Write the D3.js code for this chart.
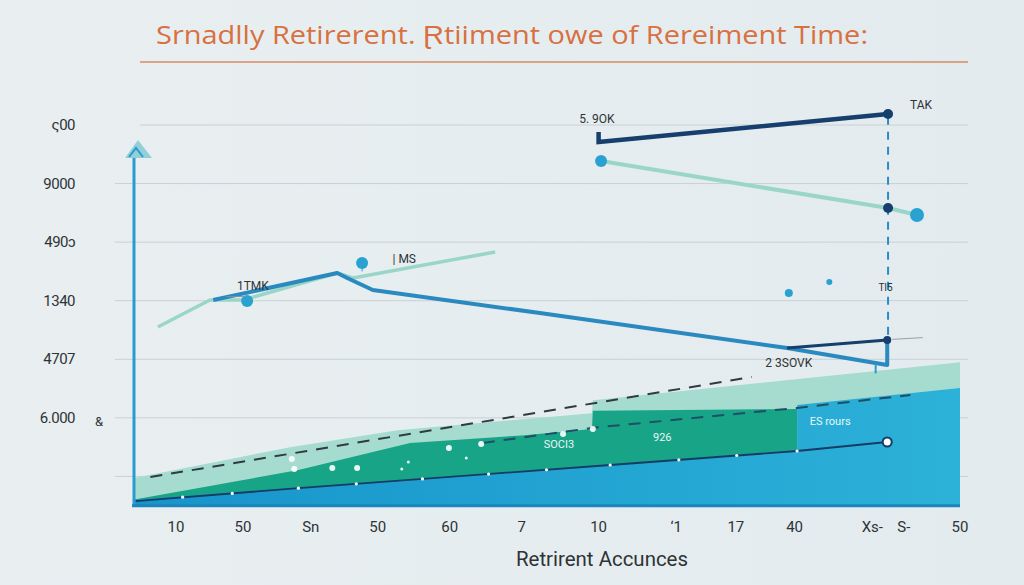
<html>
<head>
<script src="https://cdn.jsdelivr.net/npm/d3@7/dist/d3.min.js"></script>
<style>
    body { margin: 0; background: #e7eef1; overflow: hidden; }
    text { font-family: Roboto, "Open Sans", sans-serif; }
    text.tick { fill: #2e3336; font-size: 15px; }
    text.note { fill: #2e3336; font-size: 12px; }
    path.area { stroke: none; }
</style>
</head>
<body>
<script>
// tick labels
var yTickValues = [7000, 6000, 5000, 4000, 3000, 2000];
var yTickLabels = ["ς00", "9000", "490ɔ", "1340", "4707", "6.000"];
var gridValues = [7000, 6000, 5000, 4000, 3000, 2000, 1000];
var xTickPos = [5.2, 13.3, 21.5, 29.6, 38.3, 47, 56.3, 65.7, 72.9, 80, 89.4, 93.2, 100];
var xTickLabels = ["10", "50", "Sn", "50", "60", "7", "10", "‘1", "17", "40", "Xs-", "S-", "50"];

// stacked areas (top edges), base value below
var baseValue = 500;
var paleX = [0, 19, 32, 55.5, 55.6, 100];
var paleY = [970, 1500, 1790, 2080, 2300, 2950];
var greenX = [0, 20, 33.5, 47, 55.5, 55.6, 80.3];
var greenY = [600, 1110, 1570, 1700, 1810, 2120, 2150];
var blueX = [0, 57.7, 80.3, 80.31, 100];
var blueY = [600, 1200, 1450, 2220, 2510];

// lines
var tealAX = [3, 9.3, 13.3, 24.7, 26.6, 43.8];
var tealAY = [3551, 4012, 4012, 4473, 4388, 4832];
var blueBX = [9.7, 24.7, 25.9, 29, 49.2, 79.1, 91.2, 91.2];
var blueBY = [4012, 4473, 4388, 4183, 3790, 3193, 2902, 3329];
var navyVX = [79.1, 91.2];
var navyVY = [3193, 3329];
var navyCX = [56.3, 56.3, 91.3];
var navyCY = [6880, 6710, 7188];
var tealDX = [56.6, 91.3, 94.8];
var tealDY = [6385, 5583, 5463];
var dashTopX = [2.1, 74.8];
var dashTopY = [990, 2698];
var dashLowX = [42.3, 55.6, 80.3, 94];
var dashLowY = [1571, 1830, 2170, 2390];
var navyEX = [0.3, 20, 57.7, 80.3, 91.2];
var navyEY = [580, 800, 1195, 1434, 1588];
var navyEDotX = [6, 12, 20, 27, 35, 43, 50, 57.7, 66, 73, 80.3];
var navyEDotY = [645, 710, 800, 873, 957, 1040, 1114, 1195, 1283, 1357, 1434];
var dropX = [91.3, 91.3];
var dropY = [7140, 3300];

// dots
var blueDotX = [56.6, 94.8, 27.7, 13.8, 79.3, 84.2];
var blueDotY = [6385, 5463, 4644, 3995, 4132, 4320];
var blueDotR = [6, 7, 6, 6, 4, 3];
var navyDotX = [91.3, 91.3, 91.2];
var navyDotY = [7188, 5583, 3329];
var whiteDotX = [19.2, 19.5, 24.1, 27.1, 38.2, 42.1, 52, 55.6, 33.3, 32.5, 40.3];
var whiteDotY = [1298, 1127, 1144, 1144, 1485, 1554, 1724, 1810, 1246, 1127, 1315];
var whiteDotR = [3, 3, 3, 3, 3, 3, 3, 3, 1.5, 1.5, 1.5];

// notes
var noteText = ["5. 9OK", "TAK", "1TMK", "| MS", "TI5", "2 3SOVK", "SOCI3", "926", "ES rours"];
var noteX = [56.1, 95.3, 14.5, 32.8, 91.0, 79.3, 51.5, 64, 84.3];
var noteY = [7040, 7280, 4190, 4650, 4170, 2870, 1490, 1610, 1880];

var width = 1024, height = 585;

var svg = d3.select("body").append("svg")
    .attr("width", width)
    .attr("height", height);

var defs = svg.append("defs");
var bg = defs.append("linearGradient").attr("id", "bg").attr("x1", 0).attr("x2", 1);
bg.append("stop").attr("offset", "0%").attr("stop-color", "#e9eff1");
bg.append("stop").attr("offset", "100%").attr("stop-color", "#e3ebee");
var bl = defs.append("linearGradient").attr("id", "blue").attr("x1", 0).attr("x2", 1);
bl.append("stop").attr("offset", "0%").attr("stop-color", "#1794cb");
bl.append("stop").attr("offset", "100%").attr("stop-color", "#2cb1d8");

svg.append("rect").attr("width", width).attr("height", height).attr("fill", "url(#bg)");

var x = d3.scaleLinear().domain([0, 100]).range([133, 960]);
var y = d3.scaleLinear().domain([0, 7000]).range([535, 125]);

// title
svg.append("text")
    .attr("x", 512).attr("y", 44)
    .attr("text-anchor", "middle")
    .attr("textLength", 712).attr("lengthAdjust", "spacingAndGlyphs")
    .style("font-family", "'Open Sans', sans-serif")
    .style("font-size", "25px")
    .style("fill", "#d8703f")
    .text("Srnadlly Retirerent. Ɽtiiment owe of Rereiment Time:");
svg.append("line")
    .attr("x1", 140).attr("x2", 968).attr("y1", 62).attr("y2", 62)
    .attr("stroke", "#d98a62").attr("stroke-width", 1.5);

// grid
svg.append("g").selectAll("line").data(gridValues).enter().append("line")
    .attr("x1", function(d, i) { return i == 0 ? 140 : 115; })
    .attr("x2", 968)
    .attr("y1", function(d) { return y(d); })
    .attr("y2", function(d) { return y(d); })
    .attr("stroke", "#c7d0d4").attr("stroke-width", 1);

// y labels
svg.append("g").selectAll("text").data(yTickValues).enter().append("text")
    .attr("class", "tick")
    .attr("x", 75)
    .attr("y", function(d) { return y(d) + 5; })
    .attr("text-anchor", "end")
    .style("letter-spacing", "-0.5px")
    .text(function(d, i) { return yTickLabels[i]; });
svg.append("text").attr("class", "tick").attr("x", 95).attr("y", y(1950) + 5)
    .style("font-size", "13px").text("&");

// areas
function pts(xs, ys) { return xs.map(function(d, i) { return [d, ys[i]]; }); }
var area = d3.area()
    .x(function(d) { return x(d[0]); })
    .y0(y(baseValue))
    .y1(function(d) { return y(d[1]); });

svg.append("path").attr("class", "area").attr("d", area(pts(paleX, paleY))).attr("fill", "#a6dccf");
svg.append("path").attr("class", "area").attr("d", area(pts(greenX, greenY))).attr("fill", "#18a487");
svg.append("path").attr("class", "area").attr("d", area(pts(blueX, blueY))).attr("fill", "url(#blue)");

var line = d3.line()
    .x(function(d) { return x(d[0]); })
    .y(function(d) { return y(d[1]); });

// dashed lines
svg.append("path").attr("d", line(pts(dashTopX, dashTopY)))
    .attr("fill", "none").attr("stroke", "#2f3b40").attr("stroke-width", 2).attr("stroke-dasharray", "12,9");
svg.append("path").attr("d", line(pts(dashLowX, dashLowY)))
    .attr("fill", "none").attr("stroke", "#1f4f66").attr("stroke-width", 2).attr("stroke-dasharray", "12,9");

// thin navy line with white dots
svg.append("path").attr("d", line(pts(navyEX, navyEY)))
    .attr("fill", "none").attr("stroke", "#163b66").attr("stroke-width", 1.8);
svg.append("g").selectAll("circle").data(navyEDotX).enter().append("circle")
    .attr("cx", function(d) { return x(d); })
    .attr("cy", function(d, i) { return y(navyEDotY[i]); })
    .attr("r", 1.6).attr("fill", "#ffffff");
svg.append("circle").attr("cx", x(navyEX[4])).attr("cy", y(navyEY[4])).attr("r", 4.5)
    .attr("fill", "#ffffff").attr("stroke", "#163b66").attr("stroke-width", 2);

// white dots in green
svg.append("g").selectAll("circle").data(whiteDotX).enter().append("circle")
    .attr("cx", function(d) { return x(d); })
    .attr("cy", function(d, i) { return y(whiteDotY[i]); })
    .attr("r", function(d, i) { return whiteDotR[i]; })
    .attr("fill", "#ffffff").attr("opacity", 0.9);

// y axis with arrow
svg.append("line").attr("x1", 134).attr("x2", 134).attr("y1", y(baseValue)).attr("y2", 152)
    .attr("stroke", "#2a9bd0").attr("stroke-width", 3);
svg.append("polygon").attr("points", "138,140 125,158 152,158").attr("fill", "#93cfd9");
svg.append("polyline").attr("points", "129,157 136,148 143,157").attr("fill", "none")
    .attr("stroke", "#2a9bd0").attr("stroke-width", 2);
// bottom axis
svg.append("line").attr("x1", 132).attr("x2", 960).attr("y1", y(baseValue)).attr("y2", y(baseValue))
    .attr("stroke", "#1a86bb").attr("stroke-width", 3);

// dashed vertical
svg.append("path").attr("d", line(pts(dropX, dropY)))
    .attr("fill", "none").attr("stroke", "#2a8cc4").attr("stroke-width", 2).attr("stroke-dasharray", "8,7");

// teal and blue lines
svg.append("path").attr("d", line(pts(tealAX, tealAY)))
    .attr("fill", "none").attr("stroke", "#9ad6c7").attr("stroke-width", 3.5).attr("stroke-linejoin", "round");
svg.append("path").attr("d", line(pts(blueBX, blueBY)))
    .attr("fill", "none").attr("stroke", "#2a8abf").attr("stroke-width", 4).attr("stroke-linejoin", "round");
svg.append("path").attr("d", line(pts(navyVX, navyVY)))
    .attr("fill", "none").attr("stroke", "#173f6d").attr("stroke-width", 3);
svg.append("path").attr("d", line(pts(tealDX, tealDY)))
    .attr("fill", "none").attr("stroke", "#9ad6c7").attr("stroke-width", 4);
svg.append("path").attr("d", line(pts(navyCX, navyCY)))
    .attr("fill", "none").attr("stroke", "#173f6d").attr("stroke-width", 4.5);

// stem under dot
svg.append("line").attr("x1", x(blueDotX[2])).attr("x2", x(blueDotX[2]))
    .attr("y1", y(blueDotY[2])).attr("y2", y(4500)).attr("stroke", "#2a9bd0").attr("stroke-width", 1);
svg.append("line").attr("x1", x(89.8)).attr("x2", x(89.8))
    .attr("y1", y(2930)).attr("y2", y(2760)).attr("stroke", "#2a9bd0").attr("stroke-width", 2);

// dots
svg.append("g").selectAll("circle").data(blueDotX).enter().append("circle")
    .attr("cx", function(d) { return x(d); })
    .attr("cy", function(d, i) { return y(blueDotY[i]); })
    .attr("r", function(d, i) { return blueDotR[i]; })
    .attr("fill", "#29a2d2");
svg.append("g").selectAll("circle").data(navyDotX).enter().append("circle")
    .attr("cx", function(d) { return x(d); })
    .attr("cy", function(d, i) { return y(navyDotY[i]); })
    .attr("r", function(d, i) { return i == 2 ? 4 : 5; })
    .attr("fill", "#173f6d");

// notes
svg.append("line").attr("x1", x(11.3)).attr("x2", x(13.6)).attr("y1", y(4070)).attr("y2", y(4070))
    .attr("stroke", "#8a9296").attr("stroke-width", 1);
svg.append("line").attr("x1", x(91.8)).attr("x2", x(95.5)).attr("y1", y(3340)).attr("y2", y(3370))
    .attr("stroke", "#9aa2a6").attr("stroke-width", 1);
svg.append("g").selectAll("text").data(noteText).enter().append("text")
    .attr("class", "note")
    .attr("x", function(d, i) { return x(noteX[i]); })
    .attr("y", function(d, i) { return y(noteY[i]); })
    .attr("text-anchor", "middle")
    .style("font-size", function(d, i) { return i == 4 ? "10px" : (i >= 6 ? "11px" : "12px"); })
    .style("fill", function(d, i) { return i >= 6 ? "#e8f6f4" : "#2e3336"; })
    .text(function(d) { return d; });

// x labels
svg.append("g").selectAll("text").data(xTickPos).enter().append("text")
    .attr("class", "tick")
    .attr("x", function(d) { return x(d); })
    .attr("y", 532)
    .attr("text-anchor", "middle")
    .text(function(d, i) { return xTickLabels[i]; });

svg.append("text")
    .attr("x", 602).attr("y", 566)
    .attr("text-anchor", "middle")
    .attr("textLength", 172).attr("lengthAdjust", "spacingAndGlyphs")
    .style("font-size", "20px").style("fill", "#2e3336")
    .text("Retrirent Accunces");
</script>
</body>
</html>
